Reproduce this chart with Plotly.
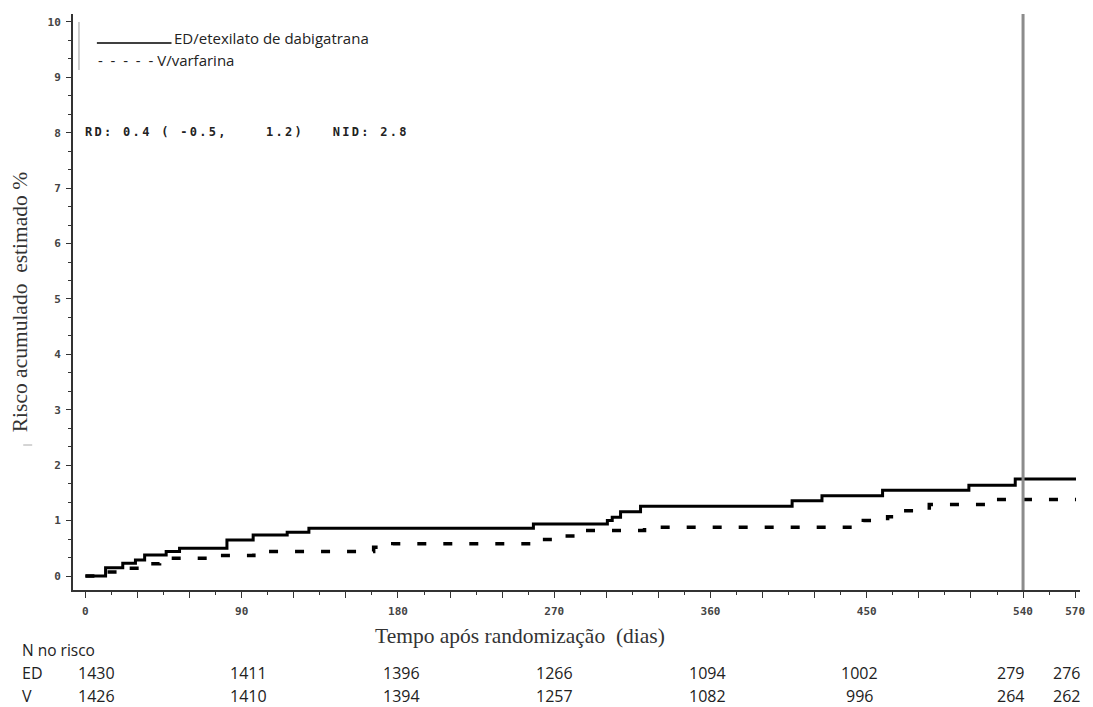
import plotly.graph_objects as go

# ---------------- data ----------------
ed_days = [0, 11.6, 21.5, 28.8, 34.1, 46.5, 54.2, 81.5, 96.6, 116.2, 128.7, 258.0, 300.6, 303.4,
           308.2, 319.7, 407.0, 424.2, 459.1, 508.8, 535.5, 570.5]
ed_risk = [0.0, 0.15, 0.23, 0.29, 0.38, 0.44, 0.50, 0.65, 0.74, 0.79, 0.86, 0.94, 1.00, 1.06,
           1.16, 1.26, 1.36, 1.45, 1.55, 1.64, 1.75, 1.75]

v_days = [0, 10, 20.7, 32, 42.7, 71, 97, 166, 177, 258, 272, 284, 322, 448, 462, 470, 486, 520, 570.5]
v_risk = [0.0, 0.07, 0.14, 0.22, 0.32, 0.37, 0.44, 0.52, 0.58, 0.66, 0.72, 0.82, 0.88, 1.00,
          1.07, 1.18, 1.29, 1.38, 1.38]

x_tick_vals = list(range(0, 571, 30))
x_labeled = [0, 90, 180, 270, 360, 450, 540, 570]
y_tick_vals = list(range(0, 11))

risk_times = [0, 90, 180, 270, 360, 450, 540, 570]
ed_at_risk = [1430, 1411, 1396, 1266, 1094, 1002, 279, 276]
v_at_risk = [1426, 1410, 1394, 1257, 1082, 996, 264, 262]

name_ed = "ED/etexilato de dabigatrana"
name_v = "V/varfarina"
stats_text = "RD: 0.4 ( -0.5,    1.2)   NID: 2.8"
y_title = "Risco acumulado\u00a0\u00a0estimado %"
x_title = "Tempo após randomização\u00a0\u00a0(dias)"
risk_header = "N no risco"

# ---------------- figure ----------------
W, H = 1093, 707
L, R, T, B = 73, 8, 14, 117
pw, ph = W - L - R, H - T - B


def px(xp):
    return (xp - L) / pw


def py(yp):
    return (H - B - yp) / ph


fig = go.Figure()
fig.add_trace(go.Scatter(x=ed_days, y=ed_risk, mode="lines", line_shape="hv",
                         line=dict(color="black", width=3), name=name_ed, showlegend=False))
fig.add_trace(go.Scatter(x=v_days, y=v_risk, mode="lines", line_shape="hv",
                         line=dict(color="black", width=3.5, dash="9px,17px"), name=name_v,
                         showlegend=False))

tick_font = dict(family="DejaVu Sans Mono", size=11, color="#444", weight="bold")

fig.update_xaxes(range=[-7.16, 572.8], showgrid=False, zeroline=False,
                 showline=True, linecolor="#333", linewidth=2,
                 tickmode="array", tickvals=x_tick_vals,
                 ticktext=[str(v) if v in x_labeled else "" for v in x_tick_vals],
                 ticks="outside", ticklen=6, tickwidth=1.3, tickcolor="#333",
                 tickfont=tick_font, ticklabelstandoff=4,
                 minor=dict(tickmode="linear", tick0=15, dtick=30, ticks="outside",
                            ticklen=3, tickwidth=1.3, tickcolor="#333"))
fig.update_yaxes(range=[-0.2527, 10.144], showgrid=False, zeroline=False,
                 showline=True, linecolor="#333", linewidth=2,
                 tickmode="array", tickvals=y_tick_vals, ticktext=[str(v) for v in y_tick_vals],
                 ticks="outside", ticklen=5, tickwidth=1.3, tickcolor="#333",
                 tickfont=tick_font, ticklabelstandoff=3,
                 minor=dict(tickmode="linear", tick0=0, dtick=1 / 3, ticks="outside",
                            ticklen=3, tickwidth=1.3, tickcolor="#333"))

shapes = [
    # vertical reference line at 540 days
    dict(type="line", xref="x", yref="paper", x0=540, x1=540, y0=0, y1=1,
         line=dict(color="#8c8c8c", width=3)),
    # legend solid sample
    dict(type="line", xref="paper", yref="paper", x0=px(97), x1=px(172), y0=py(43), y1=py(43),
         line=dict(color="black", width=1.3)),
    # legend left bar
    dict(type="line", xref="paper", yref="paper", x0=px(79), x1=px(79), y0=py(22), y1=py(70),
         line=dict(color="#bbbbbb", width=1.5)),
    # small mark near y title
    dict(type="line", xref="paper", yref="paper", x0=px(23), x1=px(32), y0=py(445), y1=py(445),
         line=dict(color="#aaaaaa", width=1)),
]

legend_font = dict(family="Open Sans", size=15, color="#222")
dash_sample = "\u00a0\u00a0".join(["-"] * 5) + "\u00a0"
annotations = [
    dict(text=name_ed, xref="paper", yref="paper", x=px(172), y=py(38), xanchor="left",
         yanchor="middle", showarrow=False, font=legend_font),
    dict(text=dash_sample + name_v, xref="paper", yref="paper", x=px(96), y=py(60),
         xanchor="left", yanchor="middle", showarrow=False, font=legend_font),
    dict(text='<span style="letter-spacing:2.3px">' + stats_text.replace(" ", "\u00a0") + "</span>",
         xref="paper", yref="paper", x=px(83), y=py(132), xanchor="left", yanchor="middle",
         showarrow=False, font=dict(family="DejaVu Sans Mono", size=12, color="#222", weight="bold")),
    dict(text=y_title, xref="paper", yref="paper", x=px(20), y=py(302), textangle=-90,
         xanchor="center", yanchor="middle", showarrow=False,
         font=dict(family="Liberation Serif", size=21.5, color="#333")),
    dict(text=x_title, xref="paper", yref="paper", x=px(522), y=py(636),
         xanchor="center", yanchor="middle", showarrow=False,
         font=dict(family="Liberation Serif", size=21.5, color="#333")),
]

table_font = dict(family="Open Sans", size=16, color="#222")
row_y = {"hdr": py(650), "ED": py(673), "V": py(696)}
annotations.append(dict(text=risk_header, xref="paper", yref="paper", x=px(21), y=row_y["hdr"],
                        xanchor="left", yanchor="middle", showarrow=False, borderpad=0,
                        font=dict(family="Open Sans", size=15.5, color="#222")))
annotations.append(dict(text="ED", xref="paper", yref="paper", x=px(21), y=row_y["ED"],
                        xanchor="left", yanchor="middle", showarrow=False, borderpad=0,
                        font=table_font))
annotations.append(dict(text="V", xref="paper", yref="paper", x=px(21), y=row_y["V"],
                        xanchor="left", yanchor="middle", showarrow=False, borderpad=0,
                        font=table_font))
col_shift = [11.5, 6.5, 3.4, 0.3, -2.7, -6.8, -12.8, -8.2]
for t, e, v, s in zip(risk_times, ed_at_risk, v_at_risk, col_shift):
    annotations.append(dict(text=str(e), xref="x", yref="paper", x=t, xshift=s, y=row_y["ED"],
                            xanchor="center", yanchor="middle", showarrow=False, borderpad=0,
                            font=table_font))
    annotations.append(dict(text=str(v), xref="x", yref="paper", x=t, xshift=s, y=row_y["V"],
                            xanchor="center", yanchor="middle", showarrow=False, borderpad=0,
                            font=table_font))

fig.update_layout(width=W, height=H, margin=dict(l=L, r=R, t=T, b=B),
                  paper_bgcolor="white", plot_bgcolor="white",
                  shapes=shapes, annotations=annotations, showlegend=False)

fig.write_html("out.html", config={"displayModeBar": False},
               post_script="document.body.style.margin='0';document.body.style.overflow='hidden';")
